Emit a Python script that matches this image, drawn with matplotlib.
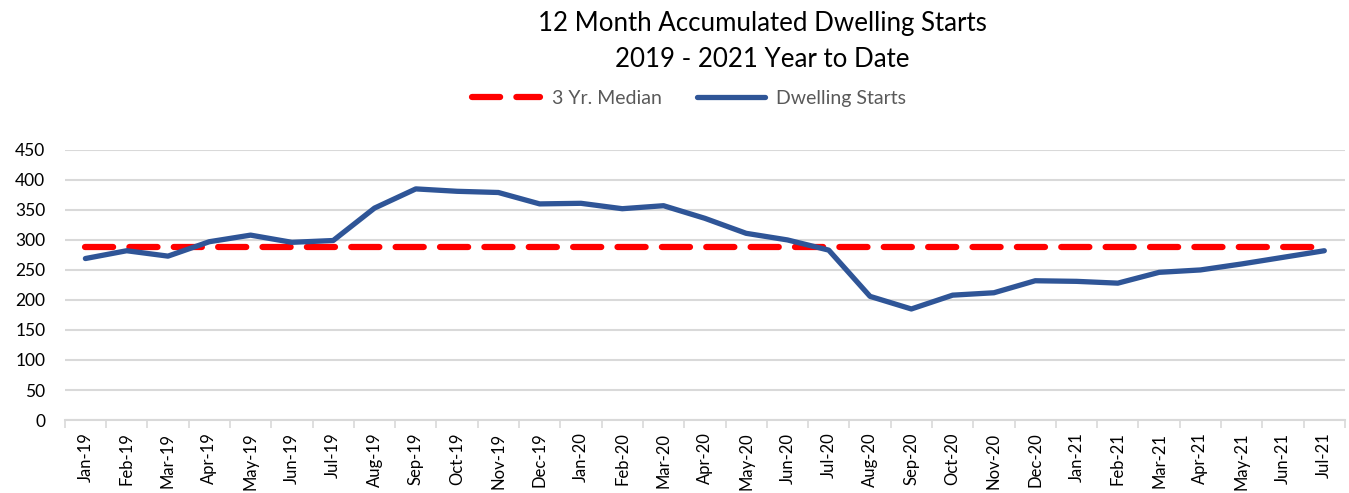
import matplotlib
matplotlib.use('Agg')
import matplotlib.pyplot as plt
import numpy as np

months = ['Jan-19', 'Feb-19', 'Mar-19', 'Apr-19', 'May-19', 'Jun-19', 'Jul-19', 'Aug-19',
          'Sep-19', 'Oct-19', 'Nov-19', 'Dec-19', 'Jan-20', 'Feb-20', 'Mar-20', 'Apr-20',
          'May-20', 'Jun-20', 'Jul-20', 'Aug-20', 'Sep-20', 'Oct-20', 'Nov-20', 'Dec-20',
          'Jan-21', 'Feb-21', 'Mar-21', 'Apr-21', 'May-21', 'Jun-21', 'Jul-21']
starts = [269, 282, 273, 297, 308, 296, 299, 353, 385, 381, 379, 360, 361, 352, 357, 336,
          311, 300, 283, 206, 185, 208, 212, 232, 231, 228, 246, 250, 260, 271, 282]
median = [289] * len(months)

plt.rcParams['font.family'] = ['Lato', 'DejaVu Sans']

fig = plt.figure(figsize=(13.49, 4.93), dpi=100)
ax = fig.add_axes([0.048, 0.148, 0.949, 0.548])

x = np.arange(len(months))
m0, = ax.plot(x, median, color='#ff0000', lw=4.5, ls=(0, (4.5, 2.6)),
              solid_capstyle='round', dash_capstyle='round', label='3 Yr. Median')
m1, = ax.plot(x, starts, color='#2f5597', lw=3.8, solid_joinstyle='round',
              solid_capstyle='round', label='Dwelling Starts')

ax.set_xlim(-0.5, len(months) - 0.5)
ax.set_ylim(0, 450)
ax.set_yticks(range(0, 451, 50))
ax.set_xticks(x)
ax.set_xticklabels(months, rotation=90, fontsize=12)
ax.set_xticks(np.arange(-0.5, len(months), 1), minor=True)
ax.tick_params(axis='x', which='major', length=0, pad=9)
ax.tick_params(axis='x', which='minor', length=6, color='#d9d9d9', width=1.2)
ax.tick_params(axis='y', length=0, labelsize=12.5, pad=14)
ax.grid(axis='y', color='#d9d9d9', lw=1.5)
ax.set_axisbelow(True)
for s in ['top', 'right', 'left']:
    ax.spines[s].set_visible(False)
ax.spines['bottom'].set_color('#d9d9d9')
ax.spines['bottom'].set_linewidth(1.5)

fig.text(0.565, 0.953, '12 Month Accumulated Dwelling Starts', ha='center', va='center', fontsize=18.6)
fig.text(0.565, 0.879, '2019 - 2021 Year to Date', ha='center', va='center', fontsize=18.6)

leg = fig.legend(handles=[m0, m1], loc='center', bbox_to_anchor=(0.511, 0.8), ncol=2,
                 frameon=False, fontsize=14, handlelength=3.5, columnspacing=1.8,
                 handletextpad=0.6)
for t in leg.get_texts():
    t.set_color('#595959')

plt.savefig('out.png', dpi=100)
